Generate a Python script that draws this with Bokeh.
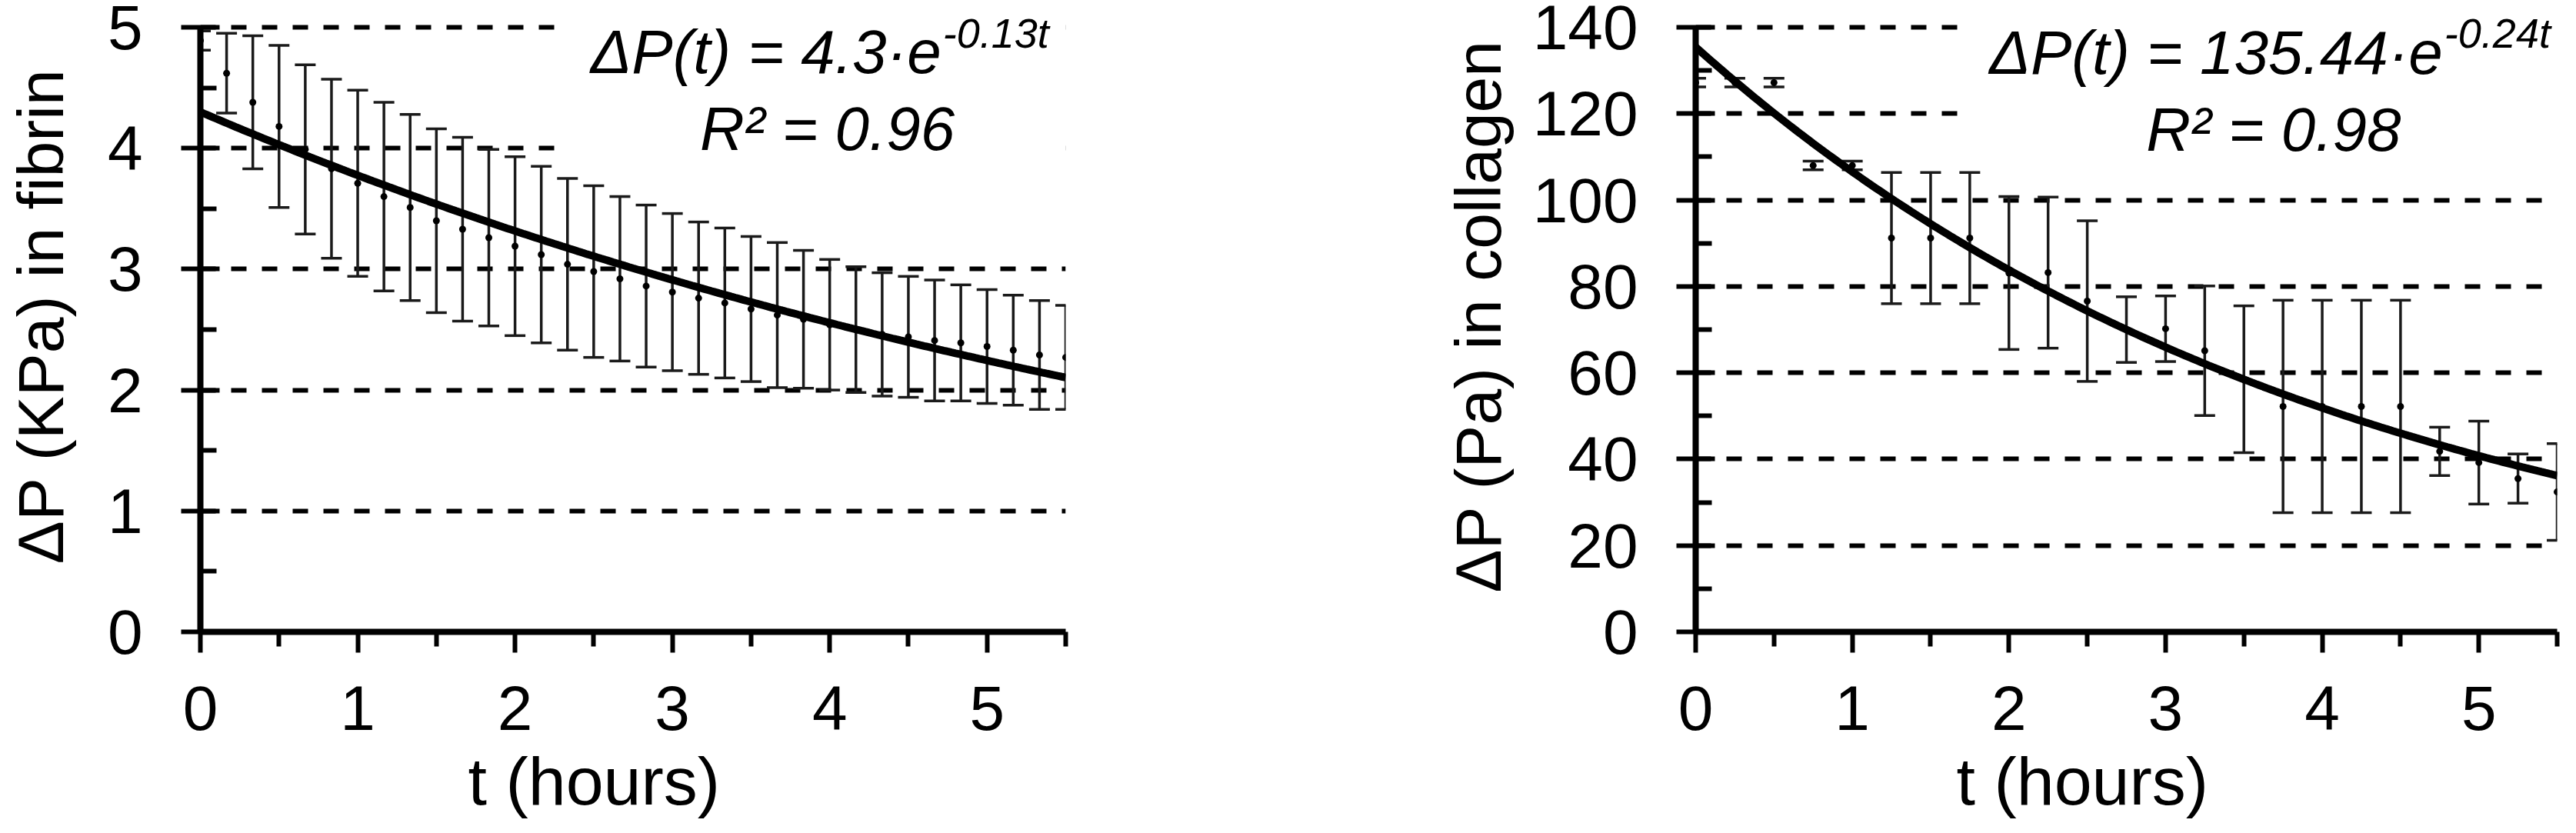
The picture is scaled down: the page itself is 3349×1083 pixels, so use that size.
import numpy as np
from bokeh.plotting import figure
from bokeh.layouts import row
from bokeh.models import FixedTicker, Label, Range1d, Title
from bokeh.embed import file_html
from bokeh.resources import INLINE

# ---------------- data ----------------
# fibrin: one point every 10 minutes
fib_minutes = [0, 10, 20, 30, 40, 50, 60, 70, 80, 90, 100, 110, 120, 130, 140, 150, 160,
               170, 180, 190, 200, 210, 220, 230, 240, 250, 260, 270, 280, 290, 300, 310, 320, 330]
fib_mean = [4.89, 4.62, 4.38, 4.18, 3.99, 3.83, 3.71, 3.60, 3.51, 3.40, 3.33, 3.26, 3.19,
            3.12, 3.04, 2.98, 2.92, 2.86, 2.81, 2.76, 2.72, 2.67, 2.62, 2.585, 2.54, 2.50,
            2.46, 2.44, 2.41, 2.39, 2.36, 2.33, 2.29, 2.27]
fib_err = [0.08, 0.33, 0.55, 0.67, 0.70, 0.74, 0.77, 0.78, 0.77, 0.76, 0.76, 0.73, 0.74,
           0.73, 0.71, 0.71, 0.68, 0.67, 0.65, 0.63, 0.62, 0.60, 0.60, 0.57, 0.54, 0.52,
           0.51, 0.50, 0.50, 0.48, 0.47, 0.455, 0.45, 0.43]

# collagen: one point every 15 minutes
col_hours = [0, 0.25, 0.5, 0.75, 1.0, 1.25, 1.5, 1.75, 2.0, 2.25, 2.5, 2.75, 3.0, 3.25,
             3.5, 3.75, 4.0, 4.25, 4.5, 4.75, 5.0, 5.25, 5.5]
col_mean = [127.2, 127.2, 127.2, 108.0, 108.0, 91.2, 91.2, 91.2, 83.1, 83.2, 76.6, 70.0,
            70.2, 65.1, 58.5, 52.2, 52.2, 52.2, 52.2, 41.8, 39.2, 35.5, 32.4]
col_err = [1.0, 1.0, 1.0, 1.0, 1.0, 15.2, 15.2, 15.2, 17.7, 17.5, 18.6, 7.6, 7.6, 15.0,
           17.0, 24.6, 24.6, 24.6, 24.6, 5.6, 9.6, 5.7, 11.2]

# fitted trend lines as printed on the chart
FIB_A, FIB_K, FIB_R2 = 4.3, 0.13, 0.96
COL_A, COL_K, COL_R2 = 135.44, 0.24, 0.98

x_major = [0, 1, 2, 3, 4, 5]
x_minor = [0.5, 1.5, 2.5, 3.5, 4.5, 5.5]
fib_y_major = [0, 1, 2, 3, 4, 5]
fib_y_minor = [0.5, 1.5, 2.5, 3.5, 4.5]
col_y_major = [0, 20, 40, 60, 80, 100, 120, 140]
col_y_minor = [10, 30, 50, 70, 90, 110, 130]

FONT = "Liberation Sans"


def make_panel(frame_w, b_left, b_right, y_end, y_top, y_major, y_minor, t, mean, err,
               A, K, R2, ylabel, ylab_standoff, xlab_offset,
               eq_anchor, sup_y, r2_xy, box):
    p = figure(frame_width=frame_w, frame_height=821,
               x_range=Range1d(0, 5.5), y_range=Range1d(0, y_end),
               output_backend="svg", toolbar_location=None,
               min_border_left=b_left, min_border_right=b_right,
               min_border_top=0, min_border_bottom=246)
    p.outline_line_color = None
    p.background_fill_color = "white"
    p.border_fill_color = "white"

    # grid
    p.xgrid.visible = False
    p.ygrid.ticker = FixedTicker(ticks=y_major)
    p.ygrid.grid_line_color = "black"
    p.ygrid.grid_line_width = 6
    p.ygrid.grid_line_dash = "20 20"

    # axes
    for ax in (p.xaxis[0], p.yaxis[0]):
        ax.axis_line_width = 8
        ax.axis_line_color = "black"
        ax.major_tick_line_width = 6
        ax.minor_tick_line_width = 6
        ax.major_tick_line_color = "black"
        ax.minor_tick_line_color = "black"
        ax.major_label_text_font = FONT
        ax.major_label_text_font_size = "82px"
        ax.major_label_text_color = "black"
    xa = p.xaxis[0]
    xa.ticker = FixedTicker(ticks=x_major, minor_ticks=x_minor)
    xa.major_tick_in = 0
    xa.major_tick_out = 27
    xa.minor_tick_in = 0
    xa.minor_tick_out = 19
    xa.major_label_standoff = 43
    ya = p.yaxis[0]
    ya.bounds = (0, y_top)
    ya.ticker = FixedTicker(ticks=y_major, minor_ticks=y_minor)
    ya.major_tick_in = 25
    ya.major_tick_out = 25
    ya.minor_tick_in = 21
    ya.minor_tick_out = 0
    ya.major_label_standoff = 50
    ya.axis_label = ylabel
    ya.axis_label_standoff = ylab_standoff
    ya.axis_label_text_font = FONT
    ya.axis_label_text_font_size = "84px"
    ya.axis_label_text_font_style = "normal"
    ya.axis_label_text_color = "black"

    # x axis title (left-aligned at an offset, as in the original)
    p.add_layout(Title(text="t (hours)", align="left", offset=xlab_offset,
                       standoff=25, text_font=FONT, text_font_size="88px",
                       text_font_style="normal", text_color="black"), "below")

    # white box behind the equation
    p.quad(left=box[0], right=box[1], bottom=box[2], top=box[3],
           fill_color="white", line_color=None)

    lo = [m - e for m, e in zip(mean, err)]
    hi = [m + e for m, e in zip(mean, err)]
    p.segment(x0=t, y0=lo, x1=t, y1=hi, line_width=3.5, line_color="#1a1a1a")
    p.scatter(x=t + t, y=lo + hi, marker="dash", size=27, line_width=3.5,
              line_color="#1a1a1a")
    p.scatter(x=t, y=mean, size=9, fill_color="black", line_color=None)

    tf = np.linspace(0, 5.5, 221)
    p.line(tf, A * np.exp(-K * tf), line_width=10, line_color="black")

    # equation
    p.add_layout(Label(x=eq_anchor[0], y=eq_anchor[1], text=f"\u0394P(t) = {A}\u00b7e",
                       text_align="right", text_baseline="alphabetic",
                       text_font=FONT, text_font_style="italic", text_font_size="80px",
                       text_color="black"))
    p.add_layout(Label(x=eq_anchor[0], y=sup_y, text=f"-{K}t", x_offset=2,
                       text_align="left", text_baseline="alphabetic",
                       text_font=FONT, text_font_style="italic", text_font_size="54px",
                       text_color="black"))
    p.add_layout(Label(x=r2_xy[0], y=r2_xy[1], text=f"R\u00b2 = {R2}",
                       text_align="center", text_baseline="alphabetic",
                       text_font=FONT, text_font_style="italic", text_font_size="80px",
                       text_color="black"))
    return p


p1 = make_panel(1125, 260, 307, 5.2226, 5, fib_y_major, fib_y_minor,
                [m / 60 for m in fib_minutes], fib_mean, fib_err,
                FIB_A, FIB_K, FIB_R2, "\u0394P (KPa) in fibrin", 37, 348,
                (4.709, 4.796), 4.955, (3.985, 4.160),
                (2.28, 5.8, 3.9, 5.4))
p2 = make_panel(1120, 512, 9, 146.24, 140, col_y_major, col_y_minor,
                col_hours, col_mean, col_err,
                COL_A, COL_K, COL_R2, "\u0394P (Pa) in collagen", 21, 339,
                (4.77, 134.2), 138.7, (3.69, 116.4),
                (1.68, 5.8, 110, 150))

layout = row(p1, p2)
open("out.html", "w").write(file_html(layout, INLINE))
